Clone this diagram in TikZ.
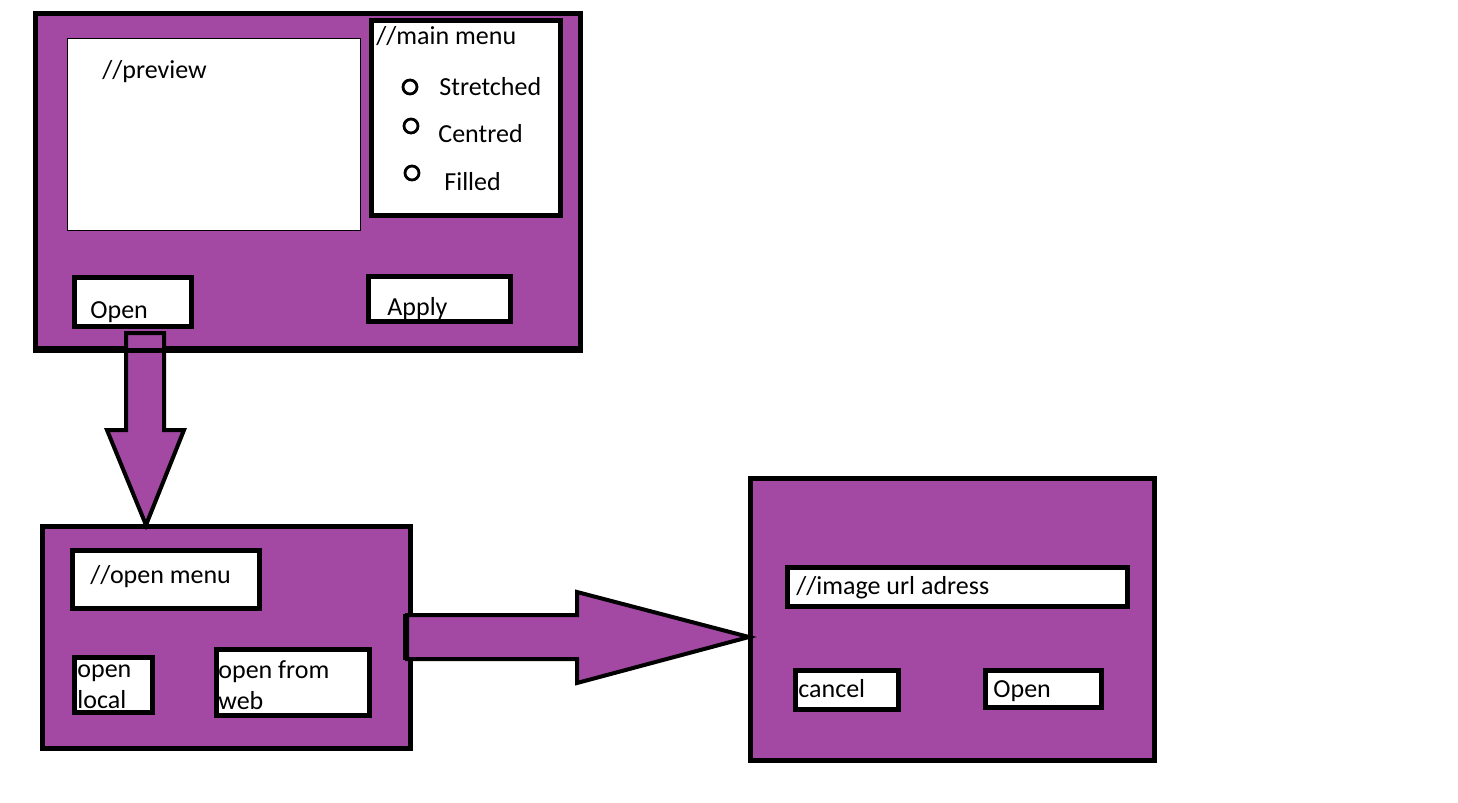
\documentclass[tikz,border=0pt]{standalone}
\usepackage{fontspec}
\setmainfont{Carlito}
\usetikzlibrary{fit,positioning}
\definecolor{appPurple}{HTML}{A349A4}

\begin{document}
\begin{tikzpicture}[x=0.5pt,y=-0.5pt,
           window/.style={draw=black, line width=2.5pt, fill=appPurple, inner sep=0pt},
           panel/.style={draw=black, line width=2.5pt, fill=white, inner sep=0pt},
           thinpanel/.style={draw=black, line width=0.5pt, fill=white, inner sep=0pt},
           radio/.style={draw=black, circle, line width=1.4pt, fill=white, inner sep=0pt, minimum size=7pt},
           label/.style={inner sep=0pt, font=\fontsize{13}{15.5}\selectfont, anchor=base west, align=left},
           blockarrow/.style={draw=black, line width=2pt, fill=appPurple, line join=miter},
        ]
        \useasboundingbox (0,0) rectangle (1458,803);

        % main window
        \node[window, fit={(35,13) (580,348)}] (main) {};
        \node[thinpanel, fit={(67,38) (360,230)}] (preview) {};
        \node[label] (lblpreview) at (102,78) {//preview};
        \node[panel, fit={(371,20) (560,215)}] (mainmenu) {};
        \node[label] (lblmainmenu) at (376,45) {//main menu};
        \node[radio] (rstretched) at (410,87) {};
        \node[radio] (rcentred) at (411,126) {};
        \node[radio] (rfilled) at (412,173) {};
        \node[label] (lblstretched) at (439,95) {Stretched};
        \node[label] (lblcentred) at (438,142) {Centred};
        \node[label] (lblfilled) at (444,190) {Filled};
        \node[panel, fit={(74,277) (191,326)}] (openbtn) {};
        \node[label] (lblopen) at (90,318) {Open};
        \node[panel, fit={(368,276) (510,321)}] (applybtn) {};
        \node[label] (lblapply) at (387,315) {Apply};

        % open menu window
        \node[window, fit={(42,526) (410,748)}] (openmenu) {};
        \node[panel, fit={(72,550) (259,608)}] (openmenubox) {};
        \node[label] (lblopenmenu) at (90,583) {//open menu};
        \node[panel, fit={(74,657) (152,712)}] (localbtn) {};
        \node[label] (lbllocal) at (77,708) {open\\local};
        \node[panel, fit={(216,649) (369,715)}] (webbtn) {};
        \node[label] (lblweb) at (218,709) {open from\\web};

        % url window
        \node[window, fit={(750,478) (1154,760)}] (urlwin) {};
        \node[panel, fit={(787,567) (1127,606)}] (urlbox) {};
        \node[label] (lblurl) at (796,594) {//image url adress};
        \node[panel, fit={(795,670) (898,709)}] (cancelbtn) {};
        \node[label] (lblcancel) at (798,697) {cancel};
        \node[panel, fit={(985,670) (1101,707)}] (urlopenbtn) {};
        \node[label] (lblurlopen) at (993,697) {Open};

        % arrows
        \draw[blockarrow] (126,333) -- (164,333) -- (164,430) -- (184,430) -- (146,525)
            -- (107,430) -- (126,430) -- cycle;
        \draw[line width=2.5pt] (main.south west) -- (main.south east);
        \draw[blockarrow] (407,615) -- (577,615) -- (577,592) -- (749,637) -- (577,683)
            -- (577,659) -- (407,659) -- cycle;
        \draw[line width=3pt] (406,614) -- (406,660);
     \end{tikzpicture}
\end{document}
